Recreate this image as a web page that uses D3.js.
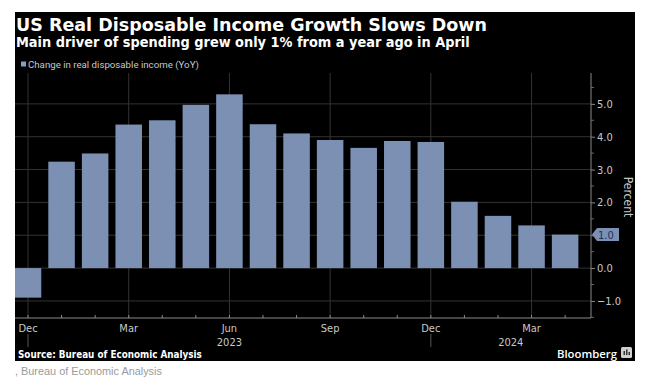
<!DOCTYPE html>
<html>
<head>
<meta charset="utf-8">
<script src="https://cdn.jsdelivr.net/npm/d3@7"></script>
<style>
  html, body { margin: 0; padding: 0; background: #fff; }
  svg { display: block; }
</style>
</head>
<body>
<svg id="chart" width="646" height="384"></svg>
<script>
// data
const months = ["2022-12","2023-01","2023-02","2023-03","2023-04","2023-05","2023-06","2023-07",
                "2023-08","2023-09","2023-10","2023-11","2023-12","2024-01","2024-02","2024-03","2024-04"];
const incomeYoY = [-0.9, 3.24, 3.49, 4.37, 4.5, 4.97, 5.29, 4.38, 4.1, 3.9, 3.66, 3.87, 3.84, 2.02, 1.59, 1.3, 1.02];
const labelMonths = ["2022-12","2023-03","2023-06","2023-09","2023-12","2024-03"];
const monthNames = ["Jan","Feb","Mar","Apr","May","Jun","Jul","Aug","Sep","Oct","Nov","Dec"];
const yTicks = [-1, 0, 1, 2, 3, 4, 5];
const yMinorTicks = [-1.5, -0.5, 0.5, 1.5, 2.5, 3.5, 4.5, 5.5];
const yearLabels = [{year: "2023", at: "2023-06", shift: 0}, {year: "2024", at: "2024-02", shift: 0.38}];
const yearBreaks = ["2022-12", "2023-12"];

const barColor = "#7c90b4";
const gridColor = "#333";
const textColor = "#c8c8c8";

const svg = d3.select("#chart");

// scale font so a text node hits the width seen in the picture
const fitText = (sel, width) => {
    let len = sel.node().getComputedTextLength();
    let size = parseFloat(sel.attr("font-size"));
    if(len > 0) sel.attr("font-size", (size * width / len).toFixed(2));
    return sel;
}

// black panel
svg.append("rect").attr("x", 15).attr("y", 12).attr("width", 620).attr("height", 349).attr("fill", "#000");

fitText(svg.append("text").attr("x", 16).attr("y", 31)
    .attr("font-family", "DejaVu Sans").attr("font-weight", "bold").attr("font-size", 18)
    .attr("fill", "#fff").text("US Real Disposable Income Growth Slows Down"), 471);

fitText(svg.append("text").attr("x", 16).attr("y", 47)
    .attr("font-family", "DejaVu Sans Condensed, DejaVu Sans").attr("font-weight", "bold").attr("font-size", 14)
    .attr("fill", "#fff").text("Main driver of spending grew only 1% from a year ago in April"), 454);

// legend
svg.append("rect").attr("x", 21).attr("y", 61.5).attr("width", 5).attr("height", 5).attr("fill", "#8a9cc0");
fitText(svg.append("text").attr("x", 28).attr("y", 67.5)
    .attr("font-family", "Liberation Sans Narrow, Roboto, sans-serif").attr("font-size", 10.5)
    .attr("fill", textColor).text("Change in real disposable income (YoY)"), 171);

// scales
const plotLeft = 15, plotRight = 591, plotTop = 73, plotBottom = 318;
const step = 33.57;
const x = d3.scaleBand()
    .domain(months)
    .range([28 - step / 2, 28 - step / 2 + step * months.length])
    .paddingInner(0.21)
    .paddingOuter(0.105);
const xc = m => x(m) + x.bandwidth() / 2;
const y = d3.scaleLinear().domain([-1.52, 5.94]).range([plotBottom, plotTop]);

// grid
const grid = svg.append("g");
grid.selectAll("line.h").data(yTicks).join("line")
    .attr("x1", plotLeft).attr("x2", plotRight)
    .attr("y1", d => y(d)).attr("y2", d => y(d))
    .attr("stroke", gridColor).attr("stroke-width", 1);
grid.selectAll("line.v").data(labelMonths).join("line")
    .attr("x1", d => xc(d)).attr("x2", d => xc(d))
    .attr("y1", plotTop).attr("y2", plotBottom)
    .attr("stroke", gridColor).attr("stroke-width", 1);

// bars
svg.append("clipPath").attr("id", "plot-clip")
    .append("rect").attr("x", plotLeft).attr("y", plotTop).attr("width", plotRight - plotLeft).attr("height", plotBottom - plotTop);
svg.append("g").attr("clip-path", "url(#plot-clip)")
    .selectAll("rect").data(months).join("rect")
    .attr("x", d => x(d))
    .attr("width", x.bandwidth())
    .attr("y", (d, i) => y(Math.max(0, incomeYoY[i])))
    .attr("height", (d, i) => Math.abs(y(incomeYoY[i]) - y(0)))
    .attr("fill", barColor);

// right axis
const yAxis = d3.axisRight(y).tickValues(yTicks).tickFormat(d3.format(".1f")).tickSize(4).tickPadding(2);
const gy = svg.append("g").attr("transform", `translate(${plotRight},0)`).call(yAxis);
gy.select(".domain").attr("stroke", "#8a8a8a").attr("d", `M0,${plotTop}V${plotBottom}`);
gy.selectAll(".tick line").attr("stroke", "#8a8a8a");
gy.selectAll(".tick text").attr("fill", textColor).attr("font-size", 11)
    .attr("font-family", "DejaVu Sans Condensed, DejaVu Sans");
gy.selectAll("line.minor").data(yMinorTicks.filter(d => y(d) >= plotTop && y(d) <= plotBottom)).join("line")
    .attr("x1", 0).attr("x2", 3).attr("y1", d => y(d)).attr("y2", d => y(d))
    .attr("stroke", "#6a6a6a");

svg.append("text")
    .attr("transform", "translate(624,197) rotate(90)")
    .attr("text-anchor", "middle")
    .attr("font-family", "DejaVu Sans Condensed, DejaVu Sans").attr("font-size", 12)
    .attr("fill", textColor).text("Percent");

// last value tag
const last = incomeYoY[incomeYoY.length - 1];
const ty = y(last);
svg.append("path")
    .attr("d", `M${plotRight + 1},${ty} L${plotRight + 6},${ty - 6.5} H${plotRight + 28} V${ty + 6.5} H${plotRight + 6} Z`)
    .attr("fill", barColor);
svg.append("text").attr("x", plotRight + 7).attr("y", ty + 4)
    .attr("font-family", "DejaVu Sans Condensed, DejaVu Sans").attr("font-size", 11)
    .attr("fill", "#1d3160").text(d3.format(".1f")(last));

// bottom axis
svg.append("line").attr("x1", plotLeft).attr("x2", plotRight).attr("y1", plotBottom).attr("y2", plotBottom).attr("stroke", "#8a8a8a");
svg.append("g").selectAll("line").data(months).join("line")
    .attr("x1", d => xc(d)).attr("x2", d => xc(d))
    .attr("y1", plotBottom - 3).attr("y2", plotBottom)
    .attr("stroke", "#8a8a8a");
svg.append("g").selectAll("text").data(labelMonths).join("text")
    .attr("x", d => xc(d)).attr("y", 332)
    .attr("text-anchor", "middle")
    .attr("font-family", "DejaVu Sans Condensed, DejaVu Sans").attr("font-size", 11)
    .attr("fill", textColor)
    .text(d => monthNames[+d.slice(5) - 1]);
svg.append("g").selectAll("line").data(yearBreaks).join("line")
    .attr("x1", d => xc(d)).attr("x2", d => xc(d))
    .attr("y1", 334).attr("y2", 347)
    .attr("stroke", "#555");
svg.append("g").selectAll("text").data(yearLabels).join("text")
    .attr("x", d => xc(d.at) + d.shift * step).attr("y", 346)
    .attr("text-anchor", "middle")
    .attr("font-family", "DejaVu Sans Condensed, DejaVu Sans").attr("font-size", 11)
    .attr("fill", textColor)
    .text(d => d.year);

// footer
fitText(svg.append("text").attr("x", 18).attr("y", 358)
    .attr("font-family", "DejaVu Sans Condensed, DejaVu Sans").attr("font-weight", "bold").attr("font-size", 10)
    .attr("fill", "#fff").text("Source: Bureau of Economic Analysis"), 184);
fitText(svg.append("text").attr("x", 557).attr("y", 358)
    .attr("font-family", "Open Sans, DejaVu Sans").attr("font-weight", "600").attr("font-size", 13)
    .attr("fill", "#fff").text("Bloomberg"), 60);
const logo = svg.append("g").attr("transform", "translate(621,347)");
logo.append("rect").attr("width", 11).attr("height", 11).attr("rx", 1.5).attr("fill", "#d0d0d0");
logo.selectAll("rect.b").data([[2.5, 4], [5, 2.5], [7.5, 5]]).join("rect")
    .attr("x", d => d[0]).attr("y", d => d[1]).attr("width", 1.5).attr("height", d => 8 - d[1])
    .attr("fill", "#333");

fitText(svg.append("text").attr("x", 15).attr("y", 375)
    .attr("font-family", "Liberation Sans Narrow, Liberation Sans, sans-serif").attr("font-size", 11)
    .attr("fill", "#9a9a9a").text(", Bureau of Economic Analysis"), 147);
</script>
</body>
</html>
